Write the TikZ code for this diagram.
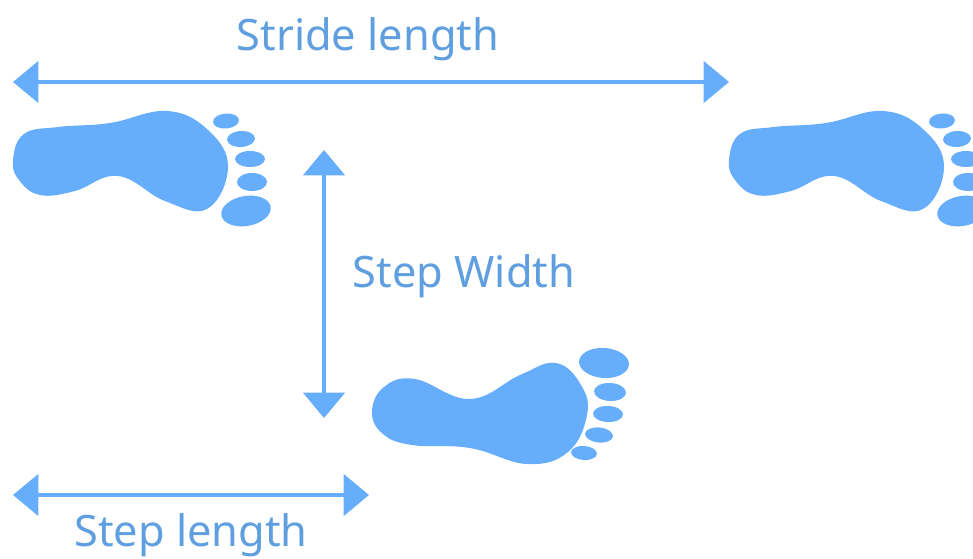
\documentclass[tikz,border=0pt]{standalone}
\usepackage{fontspec}
\setsansfont{Noto Sans}
\usetikzlibrary{arrows.meta}
\definecolor{footblue}{HTML}{66AEFC}
\definecolor{labelblue}{HTML}{5F9FE0}
\tikzset{
  span/.style={<->, footblue, line width=2.6pt},
  steplabel/.style={labelblue, font=\sffamily\fontsize{32.5}{38}\selectfont, inner sep=0pt},
}

\begin{document}
\begin{tikzpicture}[>={Triangle[length=19pt,width=31pt]}, x=0.75pt, y=-0.75pt]
  %================= Page window =================
  \clip (0,0) rectangle (973,559);
  %================= Foot outlines (edit these) =================
  \def\leftfoot{
    \fill[footblue] plot[smooth cycle, tension=0.7] coordinates {
      (13,160) (24,134) (58,127) (110,123) (167,111) (208,130) (228,167)
      (207,209) (165,201) (118,176) (75,191) (40,195) (19,180)};
    % toes: x, y, x radius, y radius, rotation
    \foreach \tx/\ty/\rx/\ry/\rot in {226/121/13/7.5/5, 241/139/14/8/3, 250/159/15/8/0, 252/182/15/9/0, 246/211/25/15/10}{
      \fill[footblue] (\tx,\ty) ellipse[x radius=\rx, y radius=\ry, rotate=\rot];
    }
  }
  \def\rightfoot{
    \fill[footblue] plot[smooth cycle, tension=0.7] coordinates {
      (372,412) (384,387) (415,379) (470,399) (520,375) (556,363) (581,385)
      (587,415) (568,452) (527,464) (470,448) (412,445) (383,434)};
    \foreach \tx/\ty/\rx/\ry/\rot in {604/363/25/15/-4, 610/392/16/9/-3, 608/414/15/8/-2, 599/435/14/7.5/-6, 584/453/13/7/-4}{
      \fill[footblue] (\tx,\ty) ellipse[x radius=\rx, y radius=\ry, rotate=\rot];
    }
  }

  %================= Feet =================
  \leftfoot
  \begin{scope}[xshift=537pt]
    \leftfoot
  \end{scope}
  \rightfoot

  %================= Span end points =================
  \coordinate (strideL) at (13,82);
  \coordinate (strideR) at (729,82);
  \coordinate (widthT) at (324,150);
  \coordinate (widthB) at (324,418);
  \coordinate (lengthL) at (13,495);
  \coordinate (lengthR) at (369,495);

  %================= Spans =================
  \draw[span] (strideL) -- (strideR);
  \draw[span] (widthT) -- (widthB);
  \draw[span] (lengthL) -- (lengthR);

  %================= Labels =================
  \node[steplabel] (stridelabel) at (368,39) {Stride length};
  \node[steplabel] (widthlabel) at (464,276) {Step Width};
  \node[steplabel] (lengthlabel) at (191,535) {Step length};
\end{tikzpicture}
\end{document}
